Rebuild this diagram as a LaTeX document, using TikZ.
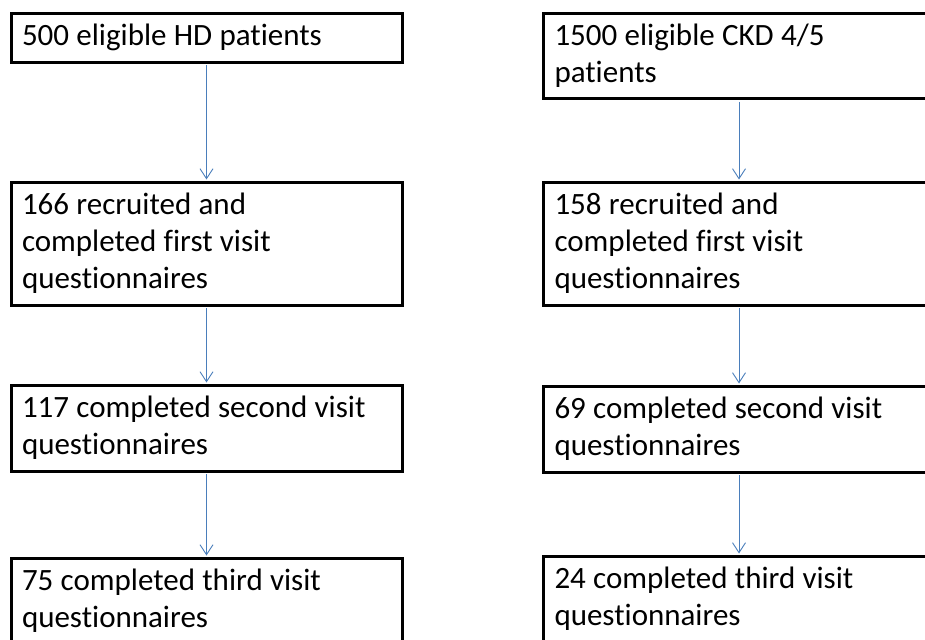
\documentclass[tikz,border=0pt]{standalone}
\usepackage{fontspec}
\setmainfont[Ligatures=NoCommon]{Carlito}
\usepackage{xcolor}
\usepackage{tikz}
\usetikzlibrary{arrows.meta,positioning}

\definecolor{flowblue}{RGB}{74,126,187}

\begin{document}
\begin{tikzpicture}[
    x=1pt, y=-1pt,
    font=\fontsize{31}{37}\selectfont,
    box/.style={
        draw=black,
        line width=3pt,
        minimum width=391pt,
        text width=369pt,
        inner xsep=11pt,
        inner ysep=5.75pt,
        align=left,
        anchor=north,
        execute at begin node={\spaceskip=0.235em\relax\strut},
        execute at end node=\strut
    },
    flow/.style={
        -{Straight Barb[length=10pt,width=13pt]},
        draw=flowblue,
        line width=0.9pt,
        shorten <=1.5pt,
        shorten >=1.5pt
    }
]

\useasboundingbox (0,0) rectangle (925,639);
\clip (0,0) rectangle (925,639);

%-----------------------------------
% Column 1: HD patients
%-----------------------------------
\node[box] (HDelig) at (206.5,12.5) {500 eligible HD patients};

\node[box] (HDfirst) at (206.5,181) {%
166 recruited and\\
completed first visit\\
questionnaires
};

\node[box] (HDsecond) at (206.5,384) {%
117 completed second visit\\
questionnaires
};

\node[box] (HDthird) at (206.5,557) {%
75 completed third visit\\
questionnaires
};

%-----------------------------------
% Column 2: CKD 4/5 patients
%-----------------------------------
\node[box] (CKDelig) at (739,12) {%
1500 eligible CKD 4/5\\
patients
};

\node[box] (CKDfirst) at (739,181) {%
158 recruited and\\
completed first visit\\
questionnaires
};

\node[box] (CKDsecond) at (739,385) {%
69 completed second visit\\
questionnaires
};

\node[box] (CKDthird) at (739,555) {%
24 completed third visit\\
questionnaires
};

%-----------------------------------
% Arrows
%-----------------------------------
\draw[flow] (HDelig.south)   -- (HDfirst.north);
\draw[flow] (HDfirst.south)  -- (HDsecond.north);
\draw[flow] (HDsecond.south) -- (HDthird.north);

\draw[flow] (CKDelig.south)   -- (CKDfirst.north);
\draw[flow] (CKDfirst.south)  -- (CKDsecond.north);
\draw[flow] (CKDsecond.south) -- (CKDthird.north);

\end{tikzpicture}
\end{document}
